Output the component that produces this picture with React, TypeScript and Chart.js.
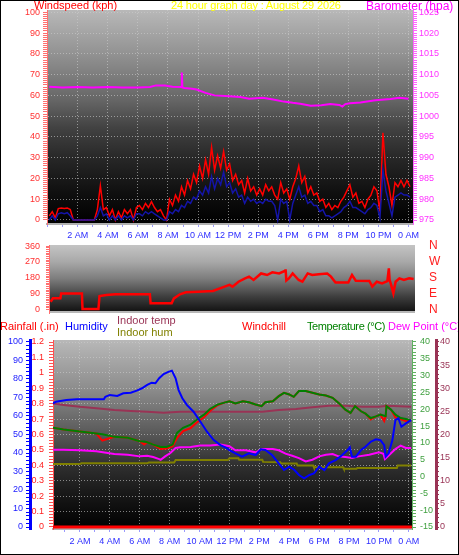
import React, { useEffect, useRef } from "react";
import { Chart, registerables } from "chart.js";

Chart.register(...registerables);

const FONT = "'Liberation Sans', Arial, sans-serif";
const GRID = "rgba(205,205,205,0.6)";
const CLEAR = "rgba(0,0,0,0)";

// x-axis tick labels (hours)
const HOUR_TICKS = [2, 4, 6, 8, 10, 12, 14, 16, 18, 20, 22, 24];
const HOUR_LABELS = ["2 AM", "4 AM", "6 AM", "8 AM", "10 AM", "12 PM", "2 PM", "4 PM", "6 PM", "8 PM", "10 PM", "0 AM"];

// ---- Top chart: wind speed (kph), every 0.2 h from 0.1 h ----
const WIND_START = 0.1;
const WIND_STEP = 0.2;
const windGust = [
  2, 4, 1, 5.5, 5.8, 5.5, 5.8, 5, 0, 0,
  0, 0, 0, 0, 0, 0, 5, 16.5, 5, 6,
  2, 5, 0, 4, 1, 5, 3, 5, 0, 6,
  7, 5, 8, 6, 8.8, 6, 4, 5, 2, 0,
  10, 7, 12, 9, 16, 12, 19, 15, 22, 18,
  26, 20, 29, 22, 35, 24, 31, 25, 33, 24,
  27, 19, 22, 17, 19, 13, 20, 14, 16, 12,
  15, 12, 17, 14, 16, 12, 10, 18, 13, 15,
  10, 16, 20, 26, 18, 21, 13, 16, 12, 13,
  9, 10, 6, 8, 5, 7, 6, 9, 11, 14,
  17, 11, 13, 8, 9, 6, 10, 12, 16, 14,
  4, 42, 22, 16, 7, 18, 16, 19, 16, 19,
  16,
];
const windAvg = [
  0, 2, 0, 3, 3.5, 3, 3.5, 2, 0, 0,
  0, 0, 0, 0, 0, 0, 2, 6, 2, 3,
  0, 2, 0, 2, 0, 2, 1, 2, 0, 3,
  3, 2, 4, 3, 4, 3, 2, 1, 0, 0,
  4, 3, 5, 4, 7, 6, 9, 8, 11, 10,
  14, 12, 16, 13, 21, 15, 20, 17, 23, 16,
  18, 13, 15, 11, 12, 8, 11, 9, 10, 8,
  9, 8, 10, 9, 9, 7, 0, 10, 8, 9,
  0, 8, 12, 16, 11, 12, 8, 9, 7, 7,
  4, 5, 2, 2, 1, 2, 3, 4, 6, 7,
  9, 6, 6, 5, 4, 3, 5, 6, 8, 7,
  1, 24, 14, 8, 2, 11, 12, 13, 12, 12,
  11,
];
// barometer [hour, hPa]
const barometer = [
  [0.1, 1007.1], [1.0, 1006.9], [2.0, 1007.0], [3.0, 1006.9], [4.0, 1007.0], [5.0, 1006.9],
  [6.0, 1006.9], [6.8, 1007.0], [7.2, 1007.4], [7.8, 1007.4], [8.3, 1007.1], [8.88, 1007.0],
  [8.92, 1010.5], [8.96, 1006.9], [9.1, 1006.8], [9.6, 1006.6], [9.9, 1006.4], [10.5, 1005.6],
  [11.1, 1005.0], [12.1, 1004.8], [12.8, 1004.6], [13.4, 1004.2], [14.3, 1004.4], [15.0, 1004.0],
  [15.7, 1003.5], [16.3, 1003.2], [16.8, 1003.0], [17.5, 1002.5], [18.2, 1002.6], [18.8, 1002.9],
  [19.4, 1002.7], [19.6, 1002.3], [19.8, 1002.9], [20.1, 1003.1], [20.8, 1003.3], [21.8, 1003.8],
  [22.8, 1004.1], [23.4, 1004.4], [24.0, 1004.2],
];

// ---- Middle chart: wind direction [hour, degrees] ----
const direction = [
  [0.2, 45], [0.35, 64], [0.85, 64], [0.9, 92], [2.28, 92], [2.32, 4], [3.38, 4], [3.45, 77],
  [3.9, 83], [4.5, 87], [6.8, 87], [6.85, 36], [8.25, 36], [8.4, 64], [8.8, 87], [9.2, 98],
  [10.0, 101], [11.0, 106], [11.6, 125], [12.1, 140], [12.3, 130], [12.7, 158], [13.1, 175],
  [13.4, 187], [13.7, 168], [14.2, 205], [14.6, 196], [14.95, 211], [15.4, 205], [15.8, 220],
  [15.83, 228], [15.88, 165], [16.05, 177], [16.3, 205], [16.7, 168], [16.95, 158], [17.3, 205],
  [17.6, 196], [18.05, 200], [18.6, 205], [18.85, 187], [19.15, 154], [20.0, 154], [20.25, 196],
  [20.5, 164], [21.4, 162], [21.6, 130], [21.9, 158], [22.25, 149], [22.6, 162], [22.7, 234],
  [22.75, 168], [22.85, 140], [23.0, 92], [23.15, 158], [23.4, 177], [23.7, 168], [24.05, 177],
  [24.35, 173],
];
const COMPASS: Record<number, string> = { 0: "N", 90: "E", 180: "S", 270: "W", 360: "N" };

// ---- Bottom chart ----
const humidity = [
  [0.2, 66.9], [0.4, 67.7], [1.1, 68.6], [1.8, 69.0], [2.5, 69.0], [3.6, 69.0], [3.7, 70.4],
  [4.0, 71.4], [4.5, 70.8], [4.9, 72.3], [5.4, 72.6], [5.8, 73.7], [6.15, 75.0], [6.5, 76.8],
  [6.8, 78.0], [7.05, 77.7], [7.3, 80.4], [7.6, 82.7], [7.95, 84.0], [8.15, 84.5], [8.4, 80.4],
  [8.6, 74.0], [8.85, 69.6], [9.15, 66.0], [9.6, 62.3], [10.05, 57.0], [10.5, 51.5], [10.95, 47.0],
  [11.4, 44.3], [11.85, 42.5], [12.0, 41.6], [12.4, 39.8], [12.85, 38.0], [13.3, 39.8],
  [13.75, 38.9], [14.1, 42.0], [14.4, 41.6], [14.85, 38.9], [15.3, 34.4], [15.65, 30.8],
  [16.0, 32.6], [16.35, 30.8], [16.65, 28.1], [17.0, 26.3], [17.35, 28.1], [17.65, 29.0],
  [18.0, 32.6], [18.35, 30.8], [18.65, 34.4], [19.1, 36.2], [19.55, 38.9], [19.9, 41.6],
  [20.05, 43.1], [20.2, 38.0], [20.45, 38.0], [20.8, 41.6], [21.1, 43.4], [21.45, 46.1],
  [21.8, 47.4], [22.1, 47.0], [22.35, 44.3], [22.45, 38.0], [22.65, 39.8], [22.9, 47.0],
  [23.1, 57.8], [23.3, 58.8], [23.5, 54.2], [23.8, 56.0], [24.15, 57.8],
];
const temperature = [
  [0.2, 14.5], [0.9, 14.0], [2.0, 13.4], [3.1, 12.8], [3.5, 12.6], [4.3, 11.8], [5.2, 11.5],
  [6.0, 10.5], [6.3, 10.4], [6.5, 10.2], [6.9, 9.5], [7.4, 8.8], [7.8, 8.8], [8.2, 9.5],
  [8.5, 13.0], [8.9, 14.5], [9.4, 15.4], [9.8, 16.9], [10.3, 18.4], [10.7, 20.1], [11.2, 21.4],
  [11.6, 21.9], [12.0, 22.4], [12.4, 21.7], [12.9, 22.4], [13.3, 22.1], [13.75, 21.4],
  [14.15, 20.9], [14.4, 22.1], [14.9, 22.4], [15.3, 23.9], [15.65, 24.9], [16.0, 24.4],
  [16.3, 23.7], [16.65, 25.4], [17.1, 25.4], [17.55, 24.9], [18.0, 24.4], [18.45, 24.1],
  [18.9, 23.4], [19.3, 21.9], [19.75, 19.9], [20.1, 18.9], [20.4, 20.9], [20.8, 19.4],
  [21.1, 18.7], [21.45, 17.4], [21.8, 17.9], [22.1, 18.4], [22.35, 18.1], [22.45, 18.0],
  [22.5, 20.9], [22.8, 19.9], [23.1, 18.4], [23.45, 17.4], [23.8, 17.1], [24.15, 16.7],
];
const windchill = [
  [0.2, 14.5], [0.9, 14.0], [2.0, 13.4], [3.1, 12.8], [3.5, 10.7], [4.3, 11.8], [5.2, 11.5],
  [6.0, 10.5], [6.3, 9.5], [6.5, 10.2], [6.9, 9.5], [7.4, 8.2], [7.8, 8.3], [8.2, 9.0],
  [8.5, 11.5], [8.9, 13.5], [9.4, 14.4], [9.8, 16.0], [10.3, 17.6], [10.7, 19.5], [11.2, 21.2],
  [11.6, 21.9], [12.0, 22.4], [12.4, 21.7], [12.9, 22.4], [13.3, 22.1], [13.75, 21.4],
  [14.15, 20.9], [14.4, 22.1], [14.9, 22.4], [15.3, 23.9], [15.65, 24.9], [16.0, 24.4],
  [16.3, 23.7], [16.65, 25.4], [17.1, 25.4], [17.55, 24.9], [18.0, 24.4], [18.45, 24.1],
  [18.9, 23.4], [19.3, 21.9], [19.75, 19.9], [20.1, 18.9], [20.4, 20.9], [20.8, 19.4],
  [21.1, 18.7], [21.45, 17.0], [21.8, 17.9], [22.1, 18.4], [22.35, 16.5], [22.45, 18.0],
  [22.5, 20.9], [22.8, 19.9], [23.1, 17.6], [23.45, 17.0], [23.8, 16.5], [24.15, 16.7],
];
const dewPoint = [
  [0.2, 8.0], [0.9, 8.0], [2.0, 7.8], [3.1, 7.5], [4.3, 6.7], [5.2, 6.5], [6.0, 6.0], [6.5, 6.2],
  [6.9, 5.8], [7.3, 5.2], [7.4, 5.0], [7.7, 6.0], [8.05, 7.0], [8.4, 8.5], [8.7, 8.7], [9.4, 8.8],
  [10.05, 9.2], [10.7, 9.2], [11.4, 9.5], [12.0, 9.0], [12.4, 7.8], [13.1, 7.8], [13.75, 7.2],
  [14.2, 8.2], [14.9, 8.2], [15.3, 7.8], [15.75, 6.8], [16.2, 6.2], [16.65, 5.5], [17.1, 4.5],
  [17.55, 5.0], [18.0, 6.0], [18.45, 6.5], [18.9, 6.7], [19.3, 6.0], [19.75, 5.8], [20.2, 5.5],
  [20.65, 6.0], [21.35, 6.5], [22.0, 7.2], [22.3, 6.8], [22.4, 5.2], [22.7, 6.5], [23.1, 8.2],
  [23.45, 9.2], [23.8, 8.5], [24.15, 8.5],
];
const indoorTemp = [
  [0.2, 26.7], [0.9, 26.4], [2.0, 26.0], [3.1, 25.7], [4.3, 25.3], [5.4, 25.1], [6.5, 24.9],
  [7.6, 24.7], [8.7, 24.9], [12.0, 24.9], [14.2, 24.9], [15.3, 25.3], [16.45, 25.5],
  [17.55, 25.9], [18.65, 26.2], [19.75, 26.2], [20.9, 26.0], [22.0, 26.0], [22.55, 26.2],
  [24.15, 26.0],
];
const indoorHum = [
  [0.2, 34.1], [2.0, 34.1], [2.1, 34.4], [6.5, 34.4], [6.6, 34.8], [8.3, 34.9], [8.4, 36.2],
  [11.9, 36.2], [12.0, 37.1], [12.6, 37.1], [12.65, 36.4], [14.2, 36.4], [14.25, 35.2],
  [15.4, 35.0], [15.45, 34.3], [16.5, 34.3], [16.55, 33.3], [17.6, 33.3], [17.65, 32.3],
  [19.6, 32.3], [19.65, 31.5], [20.5, 31.5], [20.55, 31.9], [23.2, 31.9], [23.25, 33.2],
  [24.15, 33.2],
];
const rainfall = [[0.2, 0], [24.2, 0]];

const pts = (a: number[][]) => a.map(([x, y]) => ({ x, y }));
const seq = (vals: number[]) => vals.map((y, i) => ({ x: WIND_START + i * WIND_STEP, y }));

const bgPlugin = {
  id: "bgGrad",
  beforeDraw(chart: any, _a: any, opts: any) {
    const { ctx, chartArea: a } = chart;
    if (!a || !opts || !opts.stops) return;
    const g = ctx.createLinearGradient(0, a.top, 0, a.bottom);
    opts.stops.forEach(([o, c]: [number, string]) => g.addColorStop(o, c));
    ctx.save();
    ctx.fillStyle = g;
    ctx.fillRect(a.left, a.top, a.right - a.left, a.bottom - a.top);
    if (opts.edge) {
      ctx.fillStyle = opts.edge;
      ctx.fillRect(a.left, a.bottom - 2, a.right - a.left, 2);
    }
    ctx.restore();
  },
};

function linAxis(p: any) {
  const n = Math.round((p.hi - p.lo) / p.minor);
  const vals: number[] = [];
  for (let i = 0; i <= n; i++) vals.push(Number((p.lo + i * p.minor).toFixed(6)));
  const major = (v: number) => Math.abs(v / p.major - Math.round(v / p.major)) < 1e-6;
  return {
    type: "linear",
    position: p.position,
    min: p.min,
    max: p.max,
    weight: p.weight ?? 0,
    afterBuildTicks: (a: any) => {
      a.ticks = vals.map((v) => ({ value: v }));
    },
    afterFit: (a: any) => {
      a.width = p.width;
      a.paddingTop = 0;
      a.paddingBottom = 0;
    },
    ticks: {
      autoSkip: false,
      color: p.labelColor,
      padding: p.padding ?? 3,
      font: { family: FONT, size: p.fontSize ?? 9 },
      callback: (v: number) => (major(v) ? (p.fmt ? p.fmt(v) : String(v)) : ""),
    },
    grid: {
      drawOnChartArea: !!p.grid,
      drawTicks: true,
      tickLength: p.tickLength ?? 4,
      color: (c: any) => (c.tick && major(c.tick.value) ? GRID : CLEAR),
      tickColor: p.hideTicks ? CLEAR : p.axisColor,
      lineWidth: 1,
    },
    border: {
      display: (p.borderWidth ?? 1) > 0,
      color: p.axisColor,
      width: p.borderWidth || 1,
      dash: [1, 2],
    },
  };
}

function hourAxis(min: number, max: number, height: number, pad: number) {
  const vals: number[] = [];
  for (let h = 0; h <= 24; h++) if (h >= min && h <= max) vals.push(h);
  return {
    type: "linear",
    min,
    max,
    afterBuildTicks: (a: any) => {
      a.ticks = vals.map((v) => ({ value: v }));
    },
    afterFit: (a: any) => {
      a.height = height;
      a.paddingLeft = 0;
      a.paddingRight = 0;
    },
    ticks: {
      autoSkip: false,
      maxRotation: 0,
      minRotation: 0,
      color: "#2c2cff",
      padding: pad,
      font: { family: FONT, size: 9 },
      callback: (v: number) => {
        const i = HOUR_TICKS.indexOf(v);
        return i >= 0 ? HOUR_LABELS[i] : "";
      },
    },
    grid: {
      color: (c: any) => (c.tick && HOUR_TICKS.includes(c.tick.value) ? GRID : CLEAR),
      tickColor: "#9a9aff",
      tickLength: 3,
    },
    border: { display: true, color: "#b0b0b0", width: 2, dash: [1, 2] },
  };
}

const baseOptions = (padding: any, stops: any[], edge?: string) => ({
  responsive: false,
  animation: false as const,
  devicePixelRatio: 1,
  events: [] as any[],
  layout: { padding },
  elements: { point: { radius: 0 }, line: { tension: 0 } },
  plugins: {
    legend: { display: false },
    tooltip: { enabled: false },
    bgGrad: { stops, edge },
  },
});

const topConfig = (): any => ({
  type: "line",
  data: {
    datasets: [
      { label: "Barometer (hpa)", data: pts(barometer), yAxisID: "yBaro", borderColor: "#ff00ff", borderWidth: 2, order: 0 },
      { label: "Average wind", data: seq(windAvg), yAxisID: "yWind", borderColor: "#1414a8", borderWidth: 1.5, order: 1 },
      { label: "Wind gust", data: seq(windGust), yAxisID: "yWind", borderColor: "#ff0000", borderWidth: 1.5, order: 2 },
    ],
  },
  options: {
    ...baseOptions({ top: 10, left: 0, right: 0, bottom: 0 }, [
      [0, "#b8b8b8"], [0.2, "#939393"], [0.42, "#666666"], [0.55, "#424242"],
      [0.7, "#262626"], [0.85, "#101010"], [1, "#000000"],
    ]),
    scales: {
      x: hourAxis(-0.05, 24.3, 16, 3),
      yWind: linAxis({
        position: "left", min: -1.93, max: 101.1, lo: 0, hi: 100, minor: 1, major: 10,
        width: 47, axisColor: "#ff7070", labelColor: "#ff3030", grid: true, padding: 3,
      }),
      yBaro: linAxis({
        position: "right", min: 974.04, max: 1025.55, lo: 975, hi: 1025, minor: 0.5, major: 5,
        width: 46, axisColor: "#ff66ff", labelColor: "#ff33ff", padding: 2,
      }),
    },
  },
  plugins: [bgPlugin],
});

const midConfig = (): any => ({
  type: "line",
  data: {
    datasets: [
      { label: "Wind direction", data: pts(direction), yAxisID: "yDir", borderColor: "#ff0000", borderWidth: 2.5 },
    ],
  },
  options: {
    ...baseOptions({ top: 5, left: 0, right: 0, bottom: 7 }, [
      [0, "#c4c4c4"], [0.25, "#a8a8a8"], [0.5, "#7c7c7c"], [0.75, "#404040"], [0.95, "#181818"], [1, "#141414"],
    ], "#b8b8b8"),
    scales: {
      x: { type: "linear", min: 0.09, max: 24.44, display: false },
      yDir: linAxis({
        position: "left", min: -19, max: 366, lo: 0, hi: 360, minor: 10, major: 90,
        width: 49, axisColor: "#ff7070", labelColor: "#ff3030", padding: 6, tickLength: 3,
      }),
      yCompass: linAxis({
        position: "right", min: -19, max: 366, lo: 0, hi: 360, minor: 90, major: 90,
        width: 44, axisColor: "#ff2020", labelColor: "#ff2020", borderWidth: 0, hideTicks: true,
        tickLength: 14, padding: 0, fontSize: 12, fmt: (v: number) => COMPASS[Math.round(v)] ?? "",
      }),
    },
  },
  plugins: [bgPlugin],
});

const botConfig = (): any => ({
  type: "line",
  data: {
    datasets: [
      { label: "Humidity", data: pts(humidity), yAxisID: "yHum", borderColor: "#0000ff", borderWidth: 2, order: 0 },
      { label: "Temperature (°C)", data: pts(temperature), yAxisID: "yTemp", borderColor: "#008000", borderWidth: 2, order: 1 },
      { label: "Windchill", data: pts(windchill), yAxisID: "yTemp", borderColor: "#ff0000", borderWidth: 2, order: 2 },
      { label: "Dew Point (°C)", data: pts(dewPoint), yAxisID: "yTemp", borderColor: "#ff00ff", borderWidth: 2, order: 3 },
      { label: "Indoor temp", data: pts(indoorTemp), yAxisID: "yIn", borderColor: "#993355", borderWidth: 2, order: 4 },
      { label: "Indoor hum", data: pts(indoorHum), yAxisID: "yHum", borderColor: "#808000", borderWidth: 2, order: 5 },
      { label: "Rainfall (.in)", data: pts(rainfall), yAxisID: "yRain", borderColor: "#ff0000", borderWidth: 3, order: 6 },
    ],
  },
  options: {
    ...baseOptions({ top: 20, left: 0, right: 0, bottom: 0 }, [
      [0, "#b8b8b8"], [0.25, "#8e8e8e"], [0.48, "#5c5c5c"], [0.66, "#303030"],
      [0.8, "#1a1a1a"], [0.92, "#0a0a0a"], [1, "#000000"],
    ]),
    scales: {
      x: hourAxis(0.2, 24.21, 26, 4),
      yHum: linAxis({
        position: "left", weight: 1, min: -1.08, max: 101.08, lo: 0, hi: 100, minor: 2, major: 10,
        width: 30, axisColor: "#0000ff", labelColor: "#2020ff", borderWidth: 3, padding: 3,
      }),
      yRain: linAxis({
        position: "left", weight: 0, min: -0.013, max: 1.213, lo: 0, hi: 1.2, minor: 0.02, major: 0.1,
        width: 23, axisColor: "#ff5050", labelColor: "#ff2020", grid: true, padding: 5,
        fmt: (v: number) => String(Math.round(v * 10) / 10),
      }),
      yTemp: linAxis({
        position: "right", weight: 0, min: -15.59, max: 40.59, lo: -15, hi: 40, minor: 1, major: 5,
        width: 24, axisColor: "#60b060", labelColor: "#40a040", padding: 4,
      }),
      yIn: linAxis({
        position: "right", weight: 1, min: -0.43, max: 40.43, lo: 0, hi: 40, minor: 1, major: 5,
        width: 23, axisColor: "#993355", labelColor: "#993355", borderWidth: 3, tickLength: 3, padding: 1,
      }),
    },
  },
  plugins: [bgPlugin],
});

function ChartCanvas({ config, left, top, width, height }: any) {
  const ref = useRef<HTMLCanvasElement>(null);
  useEffect(() => {
    const chart = new Chart(ref.current as HTMLCanvasElement, config());
    return () => chart.destroy();
  }, []);
  return (
    <canvas
      ref={ref}
      width={width}
      height={height}
      style={{ position: "absolute", left, top, width, height, display: "block" }}
    />
  );
}

function Label({ x, y, color, size = 11, spacing = 0, children }: any) {
  return (
    <div
      style={{
        position: "absolute",
        left: x,
        top: y,
        color,
        fontSize: size,
        lineHeight: `${size}px`,
        letterSpacing: spacing,
        fontFamily: FONT,
        whiteSpace: "nowrap",
      }}
    >
      {children}
    </div>
  );
}

export default function App() {
  return (
    <div
      style={{
        position: "absolute",
        left: 0,
        top: 0,
        width: 459,
        height: 555,
        background: "#ffffff",
        overflow: "hidden",
      }}
    >
      <ChartCanvas config={topConfig} left={0} top={0} width={459} height={240} />
      <ChartCanvas config={midConfig} left={0} top={240} width={459} height={80} />
      <ChartCanvas config={botConfig} left={0} top={320} width={459} height={235} />

      <Label x={34} y={0} color="#ff0000">Windspeed (kph)</Label>
      <Label x={171} y={0} color="#ffff00" spacing={-0.15}>24 hour graph day : August 29 2026</Label>
      <Label x={366} y={0} color="#ff00ff" size={12}>Barometer (hpa)</Label>

      <Label x={0} y={321} color="#ff0000">Rainfall (.in)</Label>
      <Label x={65} y={321} color="#0000ff">Humidity</Label>
      <Label x={117} y={315} color="#993355">Indoor temp</Label>
      <Label x={117} y={327} color="#808000">Indoor hum</Label>
      <Label x={242} y={321} color="#ff0000">Windchill</Label>
      <Label x={307} y={321} color="#008000" spacing={-0.4}>Temperature (°C)</Label>
      <Label x={388} y={321} color="#ff00ff">Dew Point (°C)</Label>

      <div
        style={{
          position: "absolute",
          left: 0,
          top: 0,
          width: 459,
          height: 555,
          boxSizing: "border-box",
          border: "1px solid #000000",
          pointerEvents: "none",
        }}
      />
    </div>
  );
}
